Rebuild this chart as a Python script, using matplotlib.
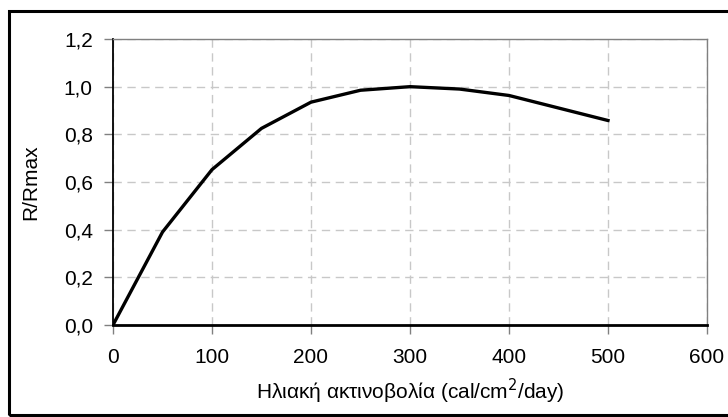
import matplotlib
matplotlib.use("Agg")
import matplotlib.pyplot as plt
from matplotlib.patches import Rectangle
from matplotlib.ticker import FuncFormatter

plt.rcParams['font.family'] = ['Liberation Sans', 'DejaVu Sans']

# data
radiation = [0, 50, 100, 150, 200, 250, 300, 350, 400, 500]
r_ratio = [0.0, 0.39, 0.652, 0.825, 0.935, 0.985, 1.0, 0.99, 0.963, 0.858]

x_ticks = [0, 100, 200, 300, 400, 500, 600]
y_ticks = [0.0, 0.2, 0.4, 0.6, 0.8, 1.0, 1.2]

W, H = 728, 417
x0, x1, y0, y1 = 113, 707, 39, 325   # plot area in pixels
fig = plt.figure(figsize=(W / 100, H / 100), dpi=100)
ax = fig.add_axes([x0 / W, 1 - y1 / H, (x1 - x0) / W, (y1 - y0) / H])

ax.plot(radiation, r_ratio, color='black', lw=2.4, solid_joinstyle='miter', zorder=3)

ax.set_xlim(0, 600)
ax.set_ylim(0, 1.2)
ax.set_xticks(x_ticks)
ax.set_yticks(y_ticks)
ax.yaxis.set_major_formatter(FuncFormatter(lambda v, p: f"{v:.1f}".replace('.', ',')))
ax.tick_params(axis='both', direction='out', length=6.5, width=1, color='#808080',
               labelsize=15)
ax.tick_params(axis='y', pad=8)
ax.tick_params(axis='x', pad=10)

ax.grid(True, color='#c8c8c8', ls=(0, (6, 4)), lw=1)
ax.set_axisbelow(True)
for s in ['top', 'right']:
    ax.spines[s].set_color('#808080')
    ax.spines[s].set_linewidth(1)
ax.spines['left'].set_color('black')
ax.spines['left'].set_linewidth(1.3)
ax.spines['bottom'].set_color('black')
ax.spines['bottom'].set_linewidth(2)

ax.set_xlabel('Ηλιακή ακτινοβολία (cal/cm$^2$/day)', fontsize=15, va='center')
ax.set_ylabel('R/Rmax', fontsize=15, va='center')
ax.xaxis.set_label_coords(0.5 + (410 - (x0 + x1) / 2) / (x1 - x0), (y1 - 391) / (y1 - y0))
ax.yaxis.set_label_coords((31 - x0) / (x1 - x0), 0.5)

# outer chart border (right edge falls outside the picture)
fig.patches.append(Rectangle((9 / W, 1 - 415 / H), 730 / W, (415 - 11) / H,
                             transform=fig.transFigure, fill=False,
                             edgecolor='black', lw=2.2))

fig.savefig('out.png', dpi=100)
